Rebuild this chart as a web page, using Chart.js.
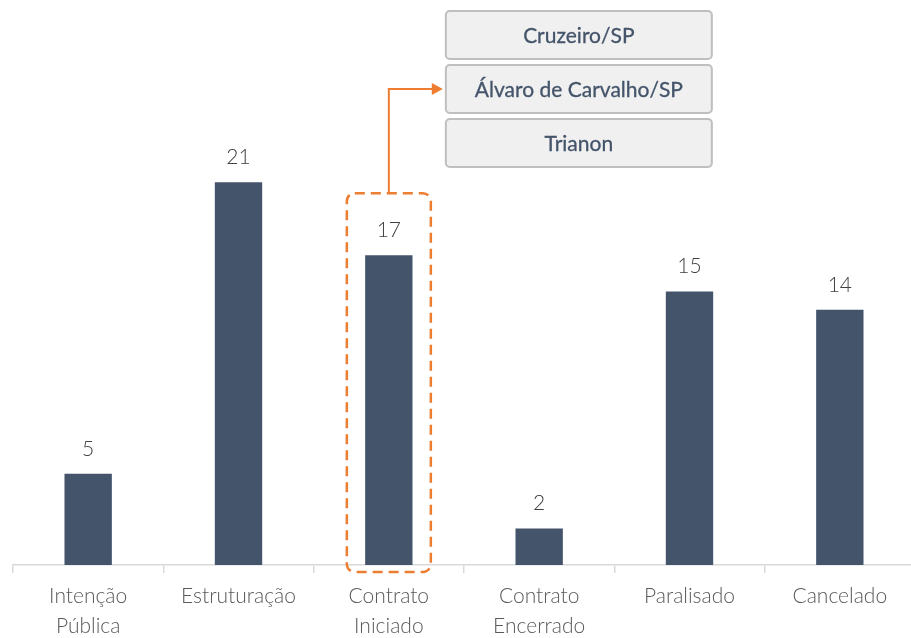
<!DOCTYPE html>
<html>
<head>
<meta charset="utf-8">
<script src="https://cdn.jsdelivr.net/npm/chart.js@4.4.0/dist/chart.umd.min.js"></script>
<style>
  html, body { margin: 0; padding: 0; background: #fff; overflow: hidden; }
  #wrap { width: 915px; height: 638px; }
</style>
</head>
<body>
<div id="wrap"><canvas id="grafico"></canvas></div>
<script>
// dados do grafico
const categorias = [['Intenção', 'Pública'], 'Estruturação', ['Contrato', 'Iniciado'], ['Contrato', 'Encerrado'], 'Paralisado', 'Cancelado'];
const valores = [5, 21, 17, 2, 15, 14];
const municipios = ['Cruzeiro/SP', 'Álvaro de Carvalho/SP', 'Trianon'];
const indiceDestaque = 2;

const fonte = 'Lato, "Open Sans", sans-serif';
const laranja = '#ED7D31';

// desenha os rotulos, o retangulo tracejado e as caixas
const anotacoes = {
  id: 'anotacoes',
  afterDatasetsDraw(chart) {
    const ctx = chart.ctx;
    const barras = chart.getDatasetMeta(0).data;
    const eixoX = chart.scales.x;

    ctx.save();
    ctx.fillStyle = '#404040';
    ctx.font = '300 21px ' + fonte;
    ctx.textAlign = 'center';
    ctx.textBaseline = 'middle';
    barras.forEach((b, i) => {
      ctx.fillText(valores[i], b.x, b.y - 25);
    });

    // retangulo tracejado
    const b = barras[indiceDestaque];
    const esq = b.x - 42, dir = b.x + 42;
    const topo = b.y - 62, base = eixoX.top + 7;
    ctx.strokeStyle = laranja;
    ctx.lineWidth = 2.5;
    ctx.setLineDash([10, 6]);
    ctx.beginPath();
    ctx.roundRect(esq, topo, dir - esq, base - topo, 8);
    ctx.stroke();

    // caixas
    const caixaEsq = b.x + 57, caixaLarg = 266, caixaAlt = 48, gap = 6;
    let y = 11;
    const centros = [];
    municipios.forEach(m => {
      ctx.setLineDash([]);
      ctx.fillStyle = '#F0F0F0';
      ctx.strokeStyle = '#BFBFBF';
      ctx.lineWidth = 2;
      ctx.beginPath();
      ctx.roundRect(caixaEsq, y, caixaLarg, caixaAlt, 4);
      ctx.fill();
      ctx.stroke();
      ctx.fillStyle = '#44546A';
      ctx.strokeStyle = '#44546A';
      ctx.lineWidth = 0.3;
      ctx.font = '400 21px ' + fonte;
      ctx.fillText(m, caixaEsq + caixaLarg / 2, y + caixaAlt / 2 + 1);
      ctx.strokeText(m, caixaEsq + caixaLarg / 2, y + caixaAlt / 2 + 1);
      centros.push(y + caixaAlt / 2);
      y += caixaAlt + gap;
    });

    // conector com seta
    const yc = centros[1];
    ctx.strokeStyle = laranja;
    ctx.lineWidth = 2;
    ctx.setLineDash([]);
    ctx.beginPath();
    ctx.moveTo(b.x, topo);
    ctx.lineTo(b.x, yc);
    ctx.lineTo(caixaEsq - 12, yc);
    ctx.stroke();
    ctx.fillStyle = laranja;
    ctx.beginPath();
    ctx.moveTo(caixaEsq - 3, yc);
    ctx.lineTo(caixaEsq - 14, yc - 6);
    ctx.lineTo(caixaEsq - 14, yc + 6);
    ctx.closePath();
    ctx.fill();
    ctx.restore();
  }
};

new Chart(document.getElementById('grafico'), {
  type: 'bar',
  data: {
    labels: categorias,
    datasets: [{
      data: valores,
      backgroundColor: '#44546A',
      categoryPercentage: 1,
      barPercentage: 0.315
    }]
  },
  options: {
    responsive: true,
    maintainAspectRatio: false,
    animation: false,
    layout: { padding: { left: 13, right: 0, top: 0, bottom: 0 } },
    plugins: { legend: { display: false }, tooltip: { enabled: false } },
    scales: {
      x: {
        afterFit(scale) { scale.height = 73; },
        grid: {
          drawOnChartArea: false,
          drawTicks: true,
          tickLength: 8,
          color: '#D9D9D9',
          lineWidth: 1.5
        },
        border: { color: '#D9D9D9', width: 1.5 },
        ticks: {
          color: '#595959',
          font: { family: fonte, size: 21, weight: '300', lineHeight: 1.4 },
          padding: 9,
          maxRotation: 0
        }
      },
      y: {
        display: false,
        min: 0,
        max: 31
      }
    }
  },
  plugins: [anotacoes]
});
</script>
</body>
</html>
